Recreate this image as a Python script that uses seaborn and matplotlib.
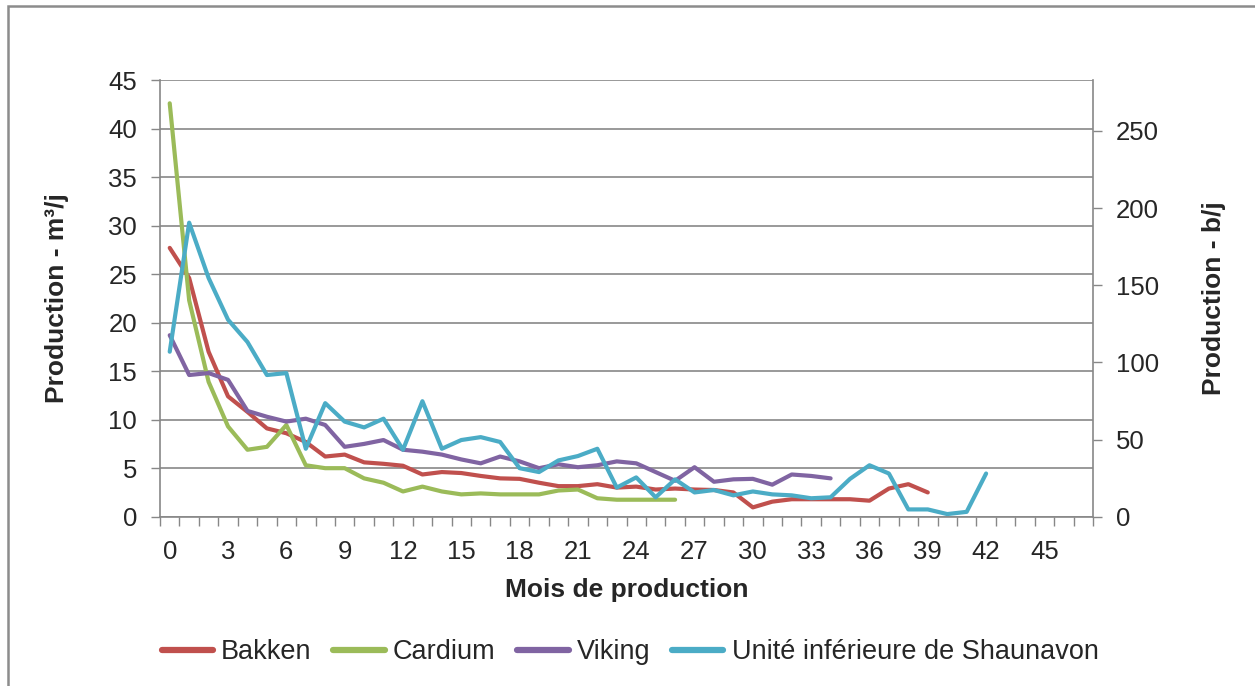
import numpy as np
import pandas as pd
import matplotlib
matplotlib.use("Agg")
import matplotlib.pyplot as plt
from matplotlib.lines import Line2D
from matplotlib.patches import Rectangle
import seaborn as sns

# Données (m3/j par mois de production)
bakken = [27.7, 24.6, 17.0, 12.4, 10.8, 9.1, 8.6, 7.7, 6.2, 6.4,
          5.6, 5.45, 5.25, 4.35, 4.6, 4.5, 4.2, 3.95, 3.9, 3.5,
          3.15, 3.15, 3.35, 3.0, 3.1, 2.8, 2.9, 2.8, 2.75, 2.5,
          0.96, 1.55, 1.8, 1.8, 1.8, 1.8, 1.65, 2.9, 3.35, 2.5]
cardium = [42.6, 22.3, 13.9, 9.3, 6.9, 7.2, 9.45, 5.3, 5.0, 5.0,
           3.95, 3.5, 2.6, 3.1, 2.6, 2.3, 2.4, 2.3, 2.3, 2.3,
           2.7, 2.8, 1.9, 1.75, 1.75, 1.75, 1.75]
viking = [18.7, 14.6, 14.8, 14.1, 10.9, 10.3, 9.8, 10.1, 9.45, 7.2,
          7.5, 7.9, 6.9, 6.7, 6.4, 5.9, 5.5, 6.2, 5.7, 5.0,
          5.4, 5.1, 5.3, 5.7, 5.5, 4.6, 3.7, 5.1, 3.6, 3.85,
          3.9, 3.3, 4.35, 4.2, 3.95]
shaunavon = [17.0, 30.3, 24.6, 20.3, 18.0, 14.6, 14.8, 7.0, 11.7, 9.8,
             9.2, 10.1, 6.9, 11.9, 7.0, 7.9, 8.2, 7.7, 5.0, 4.6,
             5.8, 6.25, 7.0, 3.0, 4.05, 2.0, 3.85, 2.5, 2.75, 2.2,
             2.6, 2.3, 2.2, 1.9, 2.0, 3.9, 5.3, 4.45, 0.75, 0.75,
             0.27, 0.5, 4.45]

noms = ["Bakken", "Cardium", "Viking", "Unité inférieure de Shaunavon"]
series = [bakken, cardium, viking, shaunavon]
couleurs = ["#C0504D", "#9BBB59", "#8064A2", "#4BACC6"]

N_MOIS = 48
M3_TO_BBL = 6.2898

frames = []
for nom, vals in zip(noms, series):
    frames.append(pd.DataFrame({"mois": np.arange(len(vals)), "prod": vals, "zone": nom}))
df = pd.concat(frames, ignore_index=True)

sns.set_style("white")
plt.rcParams["font.family"] = ["Liberation Sans", "DejaVu Sans"]

GRIS = "#878787"
fig = plt.figure(figsize=(12.55, 6.86), dpi=100)
ax = fig.add_axes([160 / 1255, 1 - 516.7 / 686, (1093 - 160) / 1255, (516.7 - 80) / 686])

sns.lineplot(data=df, x="mois", y="prod", hue="zone", hue_order=noms,
             palette=couleurs, linewidth=3.0, sort=False, legend=False, ax=ax)

ax.set_xlim(-0.5, N_MOIS - 0.5)
ax.set_ylim(0, 45)
ax.set_yticks(np.arange(0, 46, 5))
ax.set_xticks(np.arange(0, 46, 3))
ax.set_xticks(np.arange(-0.5, N_MOIS, 1), minor=True)
ax.grid(axis="y", color=GRIS, linewidth=1.2)
ax.set_axisbelow(True)

for s in ["left", "bottom"]:
    ax.spines[s].set_color(GRIS)
    ax.spines[s].set_linewidth(1.2)
ax.spines["top"].set_visible(False)
ax.spines["right"].set_visible(False)

ax.tick_params(axis="y", which="major", direction="out", length=6.5, width=1,
               color=GRIS, labelsize=18.5, pad=10, left=True)
ax.tick_params(axis="x", which="major", length=0, labelsize=18.5, pad=17, bottom=True)
ax.tick_params(axis="x", which="minor", direction="out", length=6.5, width=1,
               color=GRIS, bottom=True)

ax.set_xlabel("Mois de production", fontsize=19, fontweight="bold", labelpad=10)
ax.set_ylabel("Production - m³/j", fontsize=19, fontweight="bold", labelpad=28)

# axe secondaire en barils par jour
ax2 = ax.twinx()
ax2.set_ylim(0, 45 * M3_TO_BBL)
ax2.set_yticks(np.arange(0, 251, 50))
for s in ["left", "bottom", "top"]:
    ax2.spines[s].set_visible(False)
ax2.spines["right"].set_color(GRIS)
ax2.spines["right"].set_linewidth(1.2)
ax2.tick_params(axis="y", direction="out", length=6.5, width=1, color=GRIS,
                labelsize=18.5, pad=10, right=True)
ax2.set_ylabel("Production - b/j", fontsize=19, fontweight="bold", labelpad=31)
ax2.grid(False)

handles = [Line2D([0], [0], color=c, linewidth=4.5) for c in couleurs]
fig.legend(handles, noms, loc="center", bbox_to_anchor=(630 / 1255, 1 - 652 / 686),
           ncol=4, frameon=False, fontsize=19.5, handlelength=1.9,
           handletextpad=0.3, columnspacing=0.8)

# cadre gris de la zone de graphique
fig.patches.append(Rectangle((8 / 1255, -0.2), 1.2, 1.2 - 6 / 686,
                             transform=fig.transFigure, fill=False,
                             edgecolor="#8c8c8c", linewidth=1.8))

fig.savefig("out.png", dpi=100)
